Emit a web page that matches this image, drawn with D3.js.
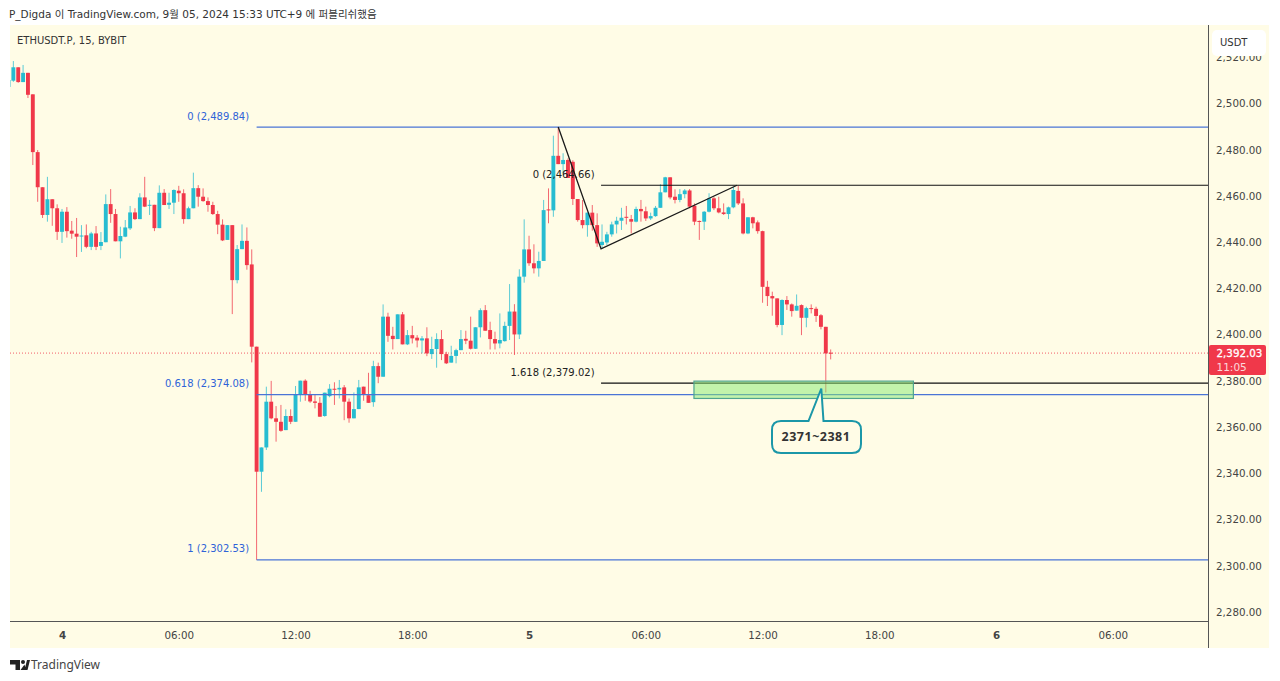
<!DOCTYPE html>
<html>
<head>
<meta charset="utf-8">
<script src="https://cdn.jsdelivr.net/npm/d3@7"></script>
<style>
  html, body { margin: 0; background: #fff; }
  svg { display: block; }
  text { font-family: "DejaVu Sans", "Noto Sans CJK KR", sans-serif; }
</style>
</head>
<body>
<div id="chart"></div>
<script>
// bar index 0 = 4th 00:00, one bar = 15 minutes
const firstBar = -11;
const opens = [
  2507.2,2509.9,2515.7,2509.3,2513.3,2504,2479,2463.8,2451.8,2458.6,
  2454.7,2444.5,2453.2,2445,2443.7,2442.5,2443,2438,2443.8,2438.4,
  2440,2456.5,2452.2,2440.4,2442.4,2446,2452.9,2450,2459.4,2455.8,
  2456.2,2446.1,2461.4,2456.2,2457.1,2462.3,2461.2,2450,2454.7,2463.4,
  2459.7,2457.8,2456.1,2452.2,2447.6,2441,2447.4,2423.6,2437,2440.6,
  2430.4,2394.8,2340.7,2351.2,2371,2363.8,2362.3,2358.7,2364.8,2362.3,
  2374.2,2380.1,2373.9,2371.1,2370.5,2364.8,2373.4,2376.6,2376.3,2377.2,
  2371,2363.8,2367.8,2377.5,2373.8,2370.8,2386.4,2381.8,2407.8,2399.5,
  2398.1,2408.8,2395.8,2399.8,2398.7,2397.5,2398.4,2391.6,2393.8,2398.1,
  2391.6,2387.9,2390.8,2393.3,2398.2,2397.4,2393.9,2403.2,2410.6,2402,
  2398.1,2396.2,2397.2,2403.8,2410,2400.1,2425.1,2436.9,2430.9,2428.7,
  2431.9,2454.2,2453.8,2477.4,2473.8,2475.6,2474.8,2458.7,2449.6,2447.4,
  2452.8,2447.4,2438.8,2439.9,2443.4,2447.7,2449.3,2451,2450,2448.9,
  2454.4,2453.4,2450.3,2451.3,2454.9,2461.6,2468.1,2459.7,2458.3,2460.8,
  2462.4,2455.8,2449.2,2448.9,2453.2,2459,2454.7,2452.9,2452.2,2455.1,
  2462.2,2456.8,2443.8,2450.8,2448.6,2444.8,2420.7,2416.7,2415.7,2404.2,
  2415,2413.1,2410.4,2412.8,2407.3,2411.5,2411.2,2408.4,2403.4,2392.2
];
const highs = [
  2510.5,2518.4,2515.7,2516.7,2513.3,2504,2479.9,2463.8,2468.3,2458.6,
  2456.4,2454.4,2455.2,2449.2,2450.5,2447.4,2447.7,2444.5,2447,2444.4,
  2460.7,2463,2454.4,2446.7,2449.6,2455.7,2454.7,2461.2,2468.3,2458.3,
  2456.2,2464.6,2463,2461.4,2462.9,2464.4,2462.9,2455.4,2470.1,2464.7,
  2463.3,2459.4,2457.5,2453.6,2449.9,2447.4,2447.4,2438.8,2447.7,2446.4,
  2436.9,2394.8,2351.2,2377.5,2380,2369.1,2369.6,2367.7,2367.7,2377.8,
  2380.1,2380.7,2375.7,2373.9,2373,2374.9,2378.6,2379.4,2380.4,2378.2,
  2372.4,2375,2380.4,2377.5,2383.5,2388.7,2387.9,2413.1,2409.5,2403.4,
  2408.8,2409.8,2402,2403.8,2399.8,2399.4,2403.2,2399.1,2400.6,2402,
  2392.6,2395.2,2393.9,2402,2401.7,2407.8,2403.2,2411.4,2412.8,2405.6,
  2401.3,2409.2,2405.6,2421.9,2413.2,2428.3,2449.9,2442.8,2439.1,2435.9,
  2458.3,2463.3,2486.1,2489.84,2478.5,2476.3,2475.5,2458.7,2458.3,2452.8,
  2456.1,2452.5,2447.7,2444.5,2448.9,2451,2454.9,2455.7,2451.8,2455.4,
  2458.3,2455.4,2452.8,2455.7,2465.1,2468.3,2468.1,2462.9,2463,2463,
  2463,2456.8,2449.4,2453.5,2461.2,2459.7,2459.7,2456.8,2455.4,2464,
  2464.4,2459,2450.8,2451,2449.4,2445,2423.3,2418.6,2415.7,2415.3,
  2416.7,2413.5,2417.4,2413.1,2412.1,2413.1,2412.1,2408.9,2403.4,2393.6
];
const lows = [
  2507,2509.4,2509,2509.3,2502.4,2473.4,2457.5,2450.5,2448.9,2447.1,
  2441,2439.7,2442,2441.5,2433.6,2435.8,2437.4,2436.6,2436.6,2436.6,
  2440,2448.4,2440.4,2433,2442.2,2445.3,2449.6,2450,2455.2,2451.8,
  2444.8,2446.1,2456.1,2454.4,2452.2,2457.5,2448,2450,2454.7,2455.4,
  2457.5,2453.2,2451.8,2443.5,2440.5,2441,2408.9,2422.2,2437,2428.1,
  2388,2302.53,2332,2350.1,2363.4,2353.7,2358,2358.7,2361.3,2362.3,
  2371,2371.4,2370.5,2368.1,2364.5,2364.5,2372.9,2369.6,2372.4,2363,
  2361.9,2363.8,2367.8,2371.4,2370.5,2368.8,2379,2381.8,2396.9,2393.6,
  2398.1,2395.8,2395.5,2396.2,2394.5,2391.9,2390.7,2389.5,2385.7,2389,
  2387.3,2387.9,2387.6,2393.3,2395.9,2393.6,2393.8,2398.8,2401.7,2393.6,
  2393.6,2394.1,2397,2397.7,2391.2,2398.1,2422.5,2429.8,2426.5,2425.1,
  2431.9,2448.2,2451,2473.8,2469.9,2467.8,2456.1,2448.9,2446,2442.4,
  2445,2438,2437.4,2438.8,2442.4,2443.8,2445.3,2447.7,2443.8,2448.6,
  2448.9,2449.2,2449.6,2451,2454.9,2461.6,2458.6,2456.8,2457.3,2459,
  2454.7,2447.4,2441,2445.3,2452.9,2453.9,2452.5,2451.8,2450,2454.7,
  2456.1,2443.4,2443.5,2446,2443.7,2413.8,2412.4,2408.2,2403.2,2399.8,
  2410.7,2407.8,2410.4,2399.8,2403.2,2409.2,2405.5,2402.3,2375,2389.3
];
const closes = [
  2510.2,2515.7,2509.3,2513.3,2503.8,2479,2463.8,2451.8,2458.6,2454.7,
  2444.5,2453.2,2444.8,2443.7,2442.4,2442.9,2438,2443.8,2438,2440.1,
  2456.5,2452.2,2440.4,2442.7,2446.4,2452.9,2450,2459.4,2455.4,2456.2,
  2446.1,2461.4,2456.1,2457.1,2462.6,2461.2,2450,2454.7,2463.4,2459.7,
  2457.8,2456.1,2452.2,2447.6,2440.8,2447.4,2423.6,2437,2440.6,2430.1,
  2394.8,2340.7,2351.2,2371,2363.8,2362.3,2358.4,2364.8,2362.3,2373.9,
  2380.1,2374.2,2371.1,2370.5,2364.5,2374.9,2376.6,2376.2,2377,2371,
  2363.8,2367.8,2377.2,2373.9,2370.5,2386.4,2381.8,2407.8,2399.5,2398.1,
  2408.8,2395.8,2399.8,2398.4,2397.5,2398.4,2391.9,2393.8,2398.1,2391.6,
  2387.6,2390.8,2393.3,2398.1,2397.4,2393.9,2403.2,2410.6,2401.7,2398.1,
  2396.2,2397.7,2403.8,2410,2400.1,2425.1,2436.9,2430.9,2428.7,2431.9,
  2453.9,2453.8,2477.4,2473.8,2475.6,2467.8,2458.7,2449.6,2447.4,2452.8,
  2447.4,2439.5,2440.2,2443.4,2447.7,2449.3,2450.6,2450.6,2448.9,2454.4,
  2453.4,2450.3,2451.3,2454.9,2461.6,2468.1,2459.4,2458.3,2460.8,2462.4,
  2455.4,2448.9,2448.9,2453.2,2459,2454.7,2452.9,2452.2,2455.1,2462.6,
  2456.8,2443.8,2450.8,2448.2,2444.8,2420.7,2416.7,2415.7,2404.2,2415,
  2413.1,2410.2,2412.5,2407.3,2411.5,2411.1,2408.1,2403.4,2391.9,2392.03
];

const priceTicks = [2520,2500,2480,2460,2440,2420,2400,2380,2360,2340,2320,2300,2280];
const timeBars = [0,24,48,72,96,120,144,168,192,216];
const timeLabels = ['4','06:00','12:00','18:00','5','06:00','12:00','18:00','6','06:00'];

const blueFibPrices = [2489.84, 2374.08, 2302.53];
const blueFibLabels = ['0 (2,489.84)', '0.618 (2,374.08)', '1 (2,302.53)'];
const blueFibStart = 40;
const blackFibPrices = [2464.66, 2379.02];
const blackFibLabels = ['0 (2,464.66)', '1.618 (2,379.02)'];
const blackFibStart = 110.8;
const trendBars = [102, 110.8, 138.75];
const trendPrices = [2489.84, 2437.1, 2464.66];

const zoneBars = [129.9, 175];
const zonePrices = [2379.9, 2372.4];
const lastPrice = 2392.03;

const Upcolor = '#27bcd1';
const Downcolor = '#f0384a';
const Paper = '#fffce6';
const Pane = { Left: 10, Right: 1208, Top: 25, Bottom: 621, AxisBottom: 648, AxisRight: 1269 };

const x = d3.scaleLinear().domain([-10.69, 235.56]).range([Pane.Left, Pane.Right]);
const y = d3.scaleLinear().domain([2534, 2276.1]).range([Pane.Top, Pane.Bottom]);

const svg = d3.select('#chart').append('svg').attr('width', 1280).attr('height', 681);

svg.append('rect')
  .attr('x', Pane.Left).attr('y', Pane.Top)
  .attr('width', Pane.AxisRight - Pane.Left).attr('height', Pane.AxisBottom - Pane.Top)
  .attr('fill', Paper);

svg.append('clipPath').attr('id', 'pane').append('rect')
  .attr('x', Pane.Left).attr('y', Pane.Top)
  .attr('width', Pane.Right - Pane.Left).attr('height', Pane.Bottom - Pane.Top);

// header
svg.append('text').attr('x', 9).attr('y', 18)
  .attr('font-size', 10.5).attr('fill', '#333')
  .text('P_Digda 이 TradingView.com, 9월 05, 2024 15:33 UTC+9 에 퍼블리쉬했음');

const plot = svg.append('g').attr('clip-path', 'url(#pane)');

// dotted last price line
plot.append('line')
  .attr('x1', Pane.Left).attr('x2', Pane.Right)
  .attr('y1', y(lastPrice)).attr('y2', y(lastPrice))
  .attr('stroke', Downcolor).attr('stroke-dasharray', '1 2').attr('opacity', 0.8);

// candles
const bars = opens.map((o, i) => ({ bar: firstBar + i, o, h: highs[i], l: lows[i], c: closes[i] }));
const barColor = d => (d.c >= d.o ? Upcolor : Downcolor);
const bodyWidth = 3.9;

const candles = plot.selectAll('g.candle').data(bars).enter().append('g').attr('class', 'candle');
candles.append('line')
  .attr('x1', d => x(d.bar)).attr('x2', d => x(d.bar))
  .attr('y1', d => y(d.h)).attr('y2', d => y(d.l))
  .attr('stroke', barColor).attr('stroke-width', 1).attr('opacity', 0.75);
candles.append('rect')
  .attr('x', d => x(d.bar) - bodyWidth / 2)
  .attr('y', d => y(Math.max(d.o, d.c)))
  .attr('width', bodyWidth)
  .attr('height', d => Math.max(1, Math.abs(y(d.o) - y(d.c))))
  .attr('fill', barColor);

// fib levels
plot.selectAll('line.blue-fib').data(blueFibPrices).enter().append('line')
  .attr('class', 'blue-fib')
  .attr('x1', x(blueFibStart)).attr('x2', Pane.Right)
  .attr('y1', d => y(d)).attr('y2', d => y(d))
  .attr('stroke', '#4a74d6').attr('stroke-width', 1.2);
plot.selectAll('line.black-fib').data(blackFibPrices).enter().append('line')
  .attr('class', 'black-fib')
  .attr('x1', x(blackFibStart)).attr('x2', Pane.Right)
  .attr('y1', d => y(d)).attr('y2', d => y(d))
  .attr('stroke', '#111').attr('stroke-width', 1.2);

svg.selectAll('text.blue-label').data(blueFibPrices).enter().append('text')
  .attr('class', 'blue-label')
  .attr('x', x(blueFibStart) - 7.5).attr('y', d => y(d) - 7.5)
  .attr('text-anchor', 'end').attr('font-size', 10).attr('fill', '#2e63d8')
  .text((d, i) => blueFibLabels[i]);
svg.selectAll('text.black-label').data(blackFibPrices).enter().append('text')
  .attr('class', 'black-label')
  .attr('x', x(blackFibStart) - 6.5).attr('y', d => y(d) - 7.5)
  .attr('text-anchor', 'end').attr('font-size', 10).attr('fill', '#222')
  .text((d, i) => blackFibLabels[i]);

// abc trend line
const trendLine = d3.line().x(d => x(d[0])).y(d => y(d[1]));
plot.append('path')
  .attr('d', trendLine(trendBars.map((b, i) => [b, trendPrices[i]])))
  .attr('fill', 'none').attr('stroke', '#1a1a1a').attr('stroke-width', 1.3);

// target zone
svg.append('rect')
  .attr('x', x(zoneBars[0])).attr('y', y(zonePrices[0]))
  .attr('width', x(zoneBars[1]) - x(zoneBars[0]))
  .attr('height', y(zonePrices[1]) - y(zonePrices[0]))
  .attr('fill', '#86ea70').attr('fill-opacity', 0.5)
  .attr('stroke', '#4fa58f').attr('stroke-width', 1.2);

// callout
const callout = svg.append('g');
const box = { x: 772, y: 421, w: 89, h: 32, r: 9, tipX: 821.3, tipY: 388.5, baseL: 808.5, baseR: 823.5 };
callout.append('path')
  .attr('d', `M${box.x + box.r},${box.y} H${box.baseL} L${box.tipX},${box.tipY} L${box.baseR},${box.y}
    H${box.x + box.w - box.r} Q${box.x + box.w},${box.y} ${box.x + box.w},${box.y + box.r}
    V${box.y + box.h - box.r} Q${box.x + box.w},${box.y + box.h} ${box.x + box.w - box.r},${box.y + box.h}
    H${box.x + box.r} Q${box.x},${box.y + box.h} ${box.x},${box.y + box.h - box.r}
    V${box.y + box.r} Q${box.x},${box.y} ${box.x + box.r},${box.y} Z`)
  .attr('fill', Paper).attr('stroke', '#1b97a8').attr('stroke-width', 2);
callout.append('text')
  .attr('x', box.x + box.w / 2 - 0.5).attr('y', box.y + 20)
  .attr('text-anchor', 'middle').attr('font-size', 12.5).attr('font-weight', 'bold')
  .attr('letter-spacing', 0.5).attr('fill', '#333')
  .style('font-family', '"Noto Sans"')
  .text('2371~2381');

// symbol title
svg.append('text').attr('x', 17).attr('y', 43.5)
  .attr('font-size', 10).attr('fill', '#333')
  .text('ETHUSDT.P, 15, BYBIT');

// price axis
const yAxis = d3.axisRight(y)
  .tickValues(priceTicks)
  .tickSize(0)
  .tickPadding(8)
  .tickFormat(d3.format(',.2f'));
const yAxisG = svg.append('g').attr('transform', `translate(${Pane.Right}, 0)`).call(yAxis);
yAxisG.select('.domain').attr('stroke', '#555').attr('d', `M0.5,${Pane.Top} V${Pane.AxisBottom}`);
yAxisG.selectAll('text').attr('font-size', 10.3).attr('fill', '#444').style('font-family', '"DejaVu Sans"');

// time axis
const xAxis = d3.axisBottom(x)
  .tickValues(timeBars)
  .tickSize(0)
  .tickPadding(10.5)
  .tickFormat((d, i) => timeLabels[i]);
const xAxisG = svg.append('g').attr('transform', `translate(0, ${Pane.Bottom})`).call(xAxis);
xAxisG.select('.domain').attr('stroke', '#555').attr('d', `M${Pane.Left},0.5 H${Pane.Right}`);
xAxisG.selectAll('text')
  .attr('font-size', 10.3).attr('fill', '#444').style('font-family', '"DejaVu Sans"')
  .attr('font-weight', (d, i) => (timeLabels[i].length === 1 ? 'bold' : 'normal'));

// USDT tag
svg.append('rect').attr('x', 1212).attr('y', 30).attr('width', 54).attr('height', 26).attr('rx', 5).attr('fill', '#fff');
svg.append('text').attr('x', 1220).attr('y', 45.5)
  .attr('font-size', 10).attr('fill', '#333').text('USDT');

// last price tag
const tag = svg.append('g').attr('transform', `translate(${Pane.Right + 1}, ${y(lastPrice) - 8})`);
tag.append('rect').attr('width', 57).attr('height', 30).attr('rx', 2).attr('fill', Downcolor);
tag.append('text').attr('x', 7.5).attr('y', 12)
  .attr('font-size', 10.3).attr('fill', '#fff').attr('stroke', '#fff').attr('stroke-width', 0.3)
  .text(d3.format(',.2f')(lastPrice));
tag.append('text').attr('x', 7.5).attr('y', 25.5)
  .attr('font-size', 10.5).attr('fill', '#fff').attr('opacity', 0.8)
  .text('11:05');

// logo
const logo = svg.append('g').attr('fill', '#222');
logo.append('path').attr('d', 'M10,660 H20 V670 H15.5 V664.5 H10 Z');
logo.append('circle').attr('cx', 23).attr('cy', 662).attr('r', 2);
logo.append('path').attr('d', 'M24.5,670 L27,660 H30 L27.5,670 Z M20.5,670 L24.5,664.5 L26,670 Z');
svg.append('text').attr('x', 31).attr('y', 668.5)
  .attr('font-size', 12).attr('fill', '#444').style('font-family', '"Noto Sans"').text('TradingView');
</script>
</body>
</html>
